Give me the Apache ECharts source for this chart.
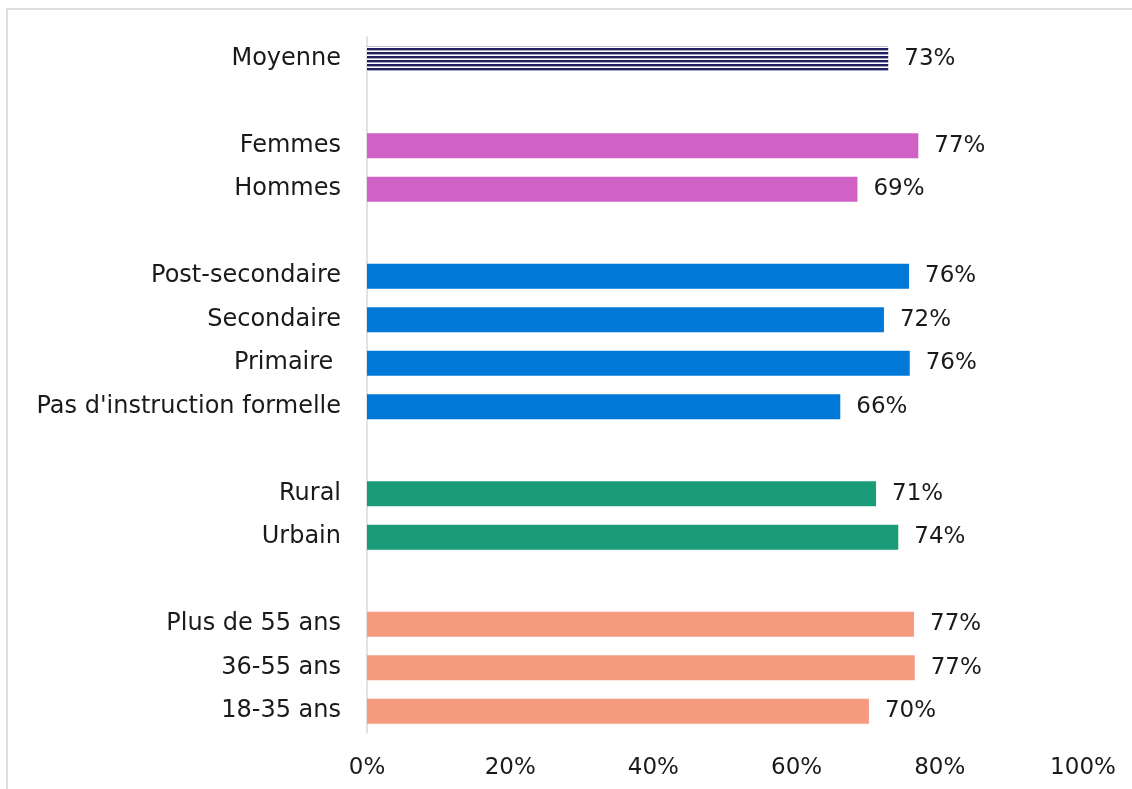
<!DOCTYPE html>
<html lang="fr">
<head>
  <meta charset="UTF-8">
  <title>Bar chart</title>
  <script src="https://cdn.jsdelivr.net/npm/echarts@6/dist/echarts.min.js"></script>
  <style>
    html, body { margin: 0; padding: 0; background: #fff; }
  </style>
</head>
<body>
  <div id="chart" style="width: 1132px; height: 789px;"></div>

  <script>
    // categories, top to bottom (blank strings = empty slot between groups)
    var categories = ['Moyenne', ' ', 'Femmes', 'Hommes', '  ', 'Post-secondaire', 'Secondaire', 'Primaire ',
      "Pas d'instruction formelle", '   ', 'Rural', 'Urbain', '    ', 'Plus de 55 ans', '36-55 ans', '18-35 ans'];
    // bar lengths (%)
    var values = [72.8, null, 77.0, 68.5, null, 75.7, 72.2, 75.8, 66.1, null, 71.1, 74.2, null, 76.4, 76.5, 70.1];
    // printed labels
    var labels = ['73%', '', '77%', '69%', '', '76%', '72%', '76%', '66%', '', '71%', '74%', '', '77%', '77%', '70%'];
    // group colour per row
    var colors = ['#1f1f5e', null, '#d062c6', '#d062c6', null, '#0078d7', '#0078d7', '#0078d7', '#0078d7', null,
      '#1a9c78', '#1a9c78', null, '#f79b80', '#f79b80', '#f79b80'];
    var xTicks = [0, 20, 40, 60, 80, 100];

    // striped pattern for the average bar
    var pat = document.createElement('canvas');
    pat.width = 4; pat.height = 4;
    var pc = pat.getContext('2d');
    pc.fillStyle = '#ffffff'; pc.fillRect(0, 0, 4, 4);
    pc.fillStyle = '#1f1f5e'; pc.fillRect(0, 0, 4, 2);
    pc.fillStyle = '#a8a8c8'; pc.fillRect(0, 2, 4, 1);

    var font = 'DejaVu Sans';
    var myChart = echarts.init(document.getElementById('chart'));

    var seriesData = values.map(function (v, i) {
      if (v == null) return null;
      return {
        value: v,
        itemStyle: { color: i === 0 ? { image: pat, repeat: 'repeat' } : colors[i] }
      };
    });

    myChart.setOption({
      animation: false,
      graphic: [{
        type: 'rect',
        shape: { x: 7, y: 9, width: 1160, height: 820 },
        style: { fill: 'none', stroke: '#dedede', lineWidth: 2 }
      }],
      grid: { left: 367, right: 49, top: 37, bottom: 56, containLabel: false },
      xAxis: {
        type: 'value',
        min: 0, max: 100, interval: 20,
        axisLine: { show: false },
        axisTick: { show: false },
        splitLine: { show: false },
        axisLabel: {
          margin: 24,
          color: '#1a1a1a',
          fontFamily: font,
          fontSize: 23,
          formatter: function (v) { return xTicks.indexOf(v) >= 0 ? v + '%' : ''; }
        }
      },
      yAxis: {
        type: 'category',
        inverse: true,
        data: categories,
        axisLine: { show: true, lineStyle: { color: '#d9d9d9', width: 1.5 } },
        axisTick: { show: false },
        axisLabel: { margin: 26, color: '#1a1a1a', fontFamily: font, fontSize: 24, padding: [6, 0, 0, 0] }
      },
      series: [{
        type: 'bar',
        barWidth: 25,
        data: seriesData,
        label: {
          show: true,
          position: 'right',
          distance: 16,
          color: '#1a1a1a',
          fontFamily: font,
          fontSize: 23,
          padding: [7, 0, 0, 0],
          formatter: function (p) { return labels[p.dataIndex]; }
        }
      }]
    });
  </script>
</body>
</html>
